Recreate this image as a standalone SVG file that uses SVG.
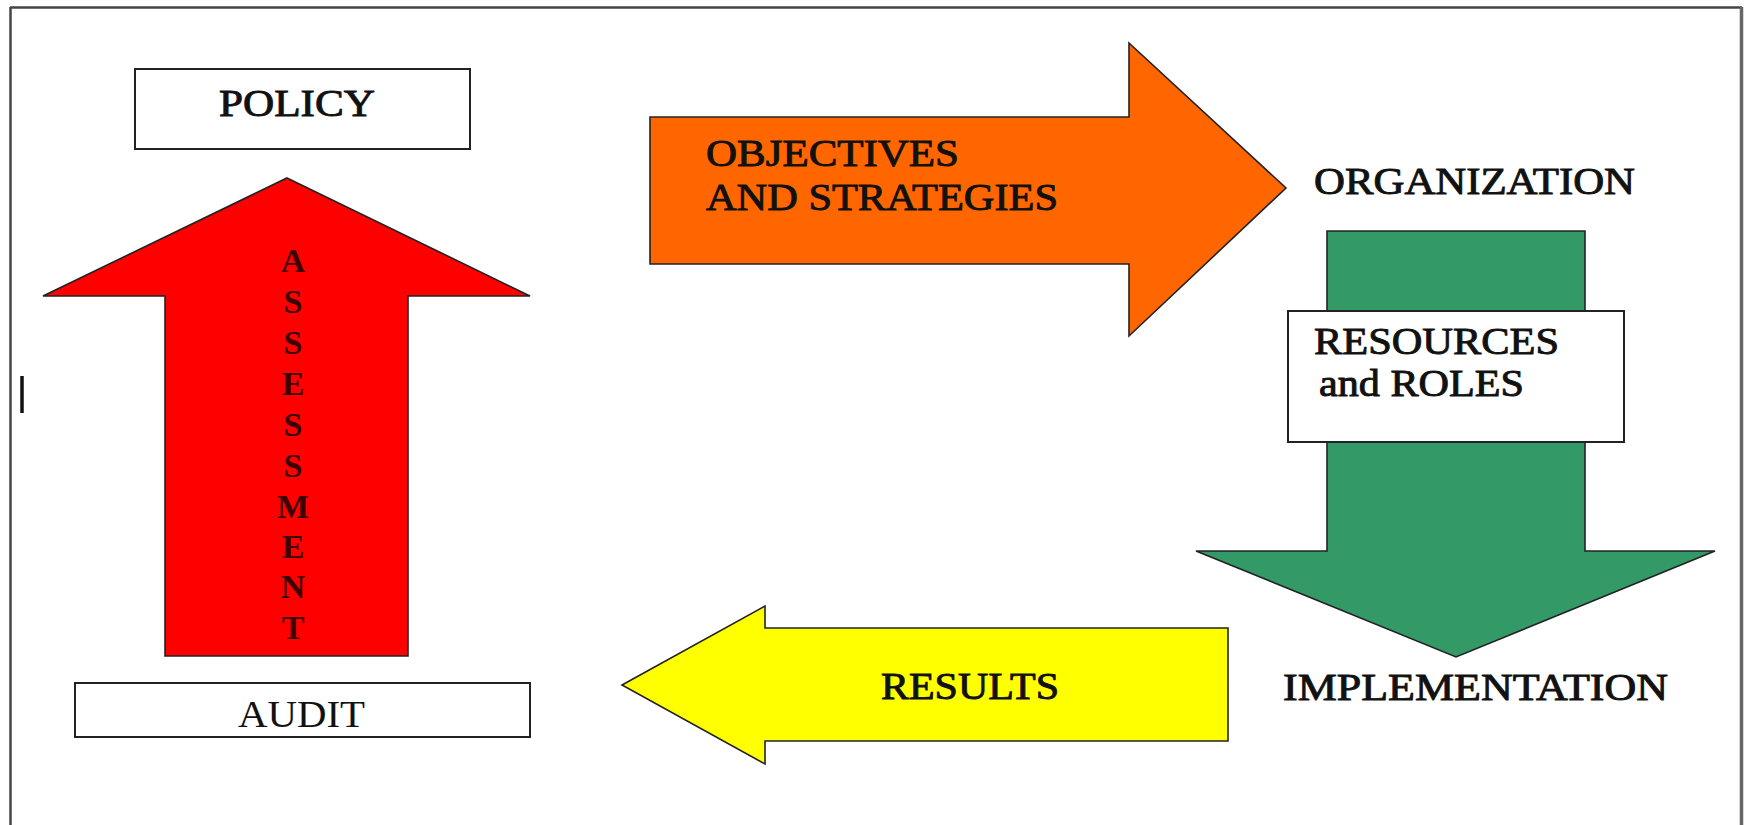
<svg xmlns="http://www.w3.org/2000/svg" width="1745" height="825" viewBox="0 0 1745 825">
<style>
.lbl{font-family:"Liberation Serif","Times New Roman",serif;font-size:37px;fill:#111;}
.b{stroke:#111;stroke-width:0.9;}
.box{fill:#fff;stroke:#222;stroke-width:2;}
.arr{stroke:#222;stroke-width:1.6;stroke-linejoin:miter;}
.vl{font-family:"Liberation Serif","Times New Roman",serif;font-size:34px;font-weight:bold;fill:#3d0000;text-anchor:middle;}
</style>
<rect x="0" y="0" width="1745" height="825" fill="#fff"/>
<g id="frame">
<line x1="10" y1="7.5" x2="1742" y2="7.5" stroke="#444" stroke-width="2.5"/>
<line x1="10.5" y1="7" x2="10.5" y2="825" stroke="#444" stroke-width="2.5"/>
<line x1="1741.5" y1="7" x2="1741.5" y2="825" stroke="#666" stroke-width="3.5"/>
<line x1="22" y1="376" x2="22" y2="413" stroke="#111" stroke-width="3.5"/>
</g>
<g id="connectors">
<g id="assessment-arrow">
<polygon class="arr" fill="#ff0000" points="287,178 530,296 408,296 408,656 165,656 165,296 43,296"/>
<text class="vl" x="293" y="272">A</text>
<text class="vl" x="293" y="313">S</text>
<text class="vl" x="293" y="354">S</text>
<text class="vl" x="293" y="395">E</text>
<text class="vl" x="293" y="436">S</text>
<text class="vl" x="293" y="477">S</text>
<text class="vl" x="293" y="518">M</text>
<text class="vl" x="293" y="558">E</text>
<text class="vl" x="293" y="598">N</text>
<text class="vl" x="293" y="639">T</text>
</g>
<g id="objectives-arrow">
<polygon class="arr" fill="#ff6600" points="650,117 1129,117 1129,43 1286,188 1129,336 1129,264 650,264"/>
<text class="lbl b" x="706" y="166" textLength="253" lengthAdjust="spacingAndGlyphs" fill="#1e0c00" stroke="#1e0c00">OBJECTIVES</text>
<text class="lbl b" x="706" y="210" textLength="352" lengthAdjust="spacingAndGlyphs" fill="#1e0c00" stroke="#1e0c00">AND STRATEGIES</text>
</g>
<g id="resources-arrow">
<polygon class="arr" fill="#339966" points="1327,231 1585,231 1585,551 1715,551 1456,657 1196,551 1327,551"/>
</g>
<g id="results-arrow">
<polygon class="arr" fill="#ffff00" points="622,685 765,606 765,628 1228,628 1228,741 765,741 765,764"/>
<text class="lbl b" x="881" y="699" textLength="178" lengthAdjust="spacingAndGlyphs">RESULTS</text>
</g>
</g>
<g id="policy">
<rect class="box" x="135" y="69" width="335" height="80"/>
<text class="lbl b" x="219" y="116" textLength="156" lengthAdjust="spacingAndGlyphs">POLICY</text>
</g>
<g id="audit">
<rect class="box" x="75" y="683" width="455" height="54"/>
<text class="lbl" x="238" y="727" textLength="127" lengthAdjust="spacingAndGlyphs">AUDIT</text>
</g>
<g id="organization">
<text class="lbl b" x="1314" y="194" textLength="321" lengthAdjust="spacingAndGlyphs">ORGANIZATION</text>
</g>
<g id="resources">
<rect class="box" x="1288" y="311" width="336" height="131"/>
<text class="lbl b" x="1314" y="354" textLength="245" lengthAdjust="spacingAndGlyphs">RESOURCES</text>
<text class="lbl b" x="1319" y="396" textLength="205" lengthAdjust="spacingAndGlyphs">and ROLES</text>
</g>
<g id="implementation">
<text class="lbl b" x="1283" y="700" textLength="385" lengthAdjust="spacingAndGlyphs">IMPLEMENTATION</text>
</g>
</svg>
